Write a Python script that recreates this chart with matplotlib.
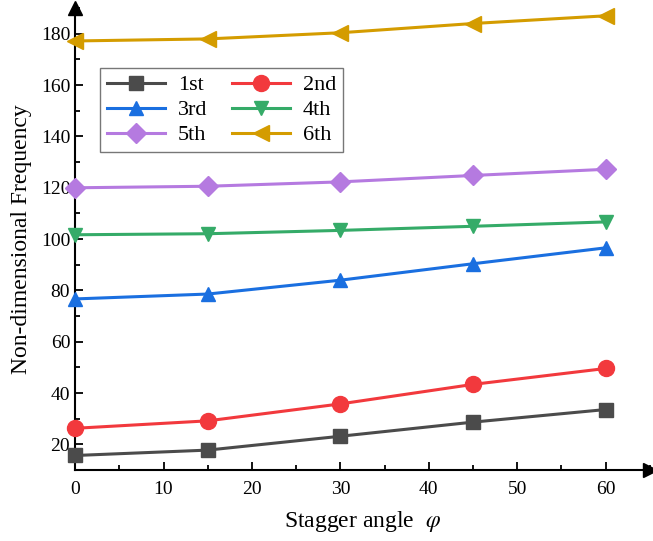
import numpy as np
import matplotlib.pyplot as plt
from matplotlib.ticker import MultipleLocator

plt.rcParams['font.family'] = ['Liberation Serif', 'DejaVu Serif']
plt.rcParams['mathtext.fontset'] = 'stix'

# stagger angle (deg)
angles = [0, 15, 30, 45, 60]
labels = ['1st', '2nd', '3rd', '4th', '5th', '6th']

# non-dimensional frequency for each mode
f1 = [15.7, 17.8, 23.2, 28.7, 33.6]
f2 = [26.3, 29.2, 35.8, 43.4, 49.6]
f3 = [76.7, 78.6, 84.0, 90.4, 96.6]
f4 = [101.7, 102.1, 103.4, 105.0, 106.7]
f5 = [120.0, 120.6, 122.3, 124.8, 127.2]
f6 = [177.2, 178.0, 180.4, 184.0, 187.0]

series = [f1, f2, f3, f4, f5, f6]
colors = ['#4b4b4b', '#f2393d', '#1a6fe0', '#35ab68', '#b57ae0', '#d49c00']
markers = ['s', 'o', '^', 'v', 'D', '<']
msizes = [9.5, 11.5, 10.5, 10.5, 10, 11]

fig = plt.figure(figsize=(6.53, 5.41), dpi=100)
ax = fig.add_axes([0.115, 0.131, 0.88, 0.854])

handles = []
for y, c, m, ms, lab in zip(series, colors, markers, msizes, labels):
    h, = ax.plot(angles, y, color=c, marker=m, markersize=ms, lw=2.2, label=lab,
                 clip_on=False, zorder=3)
    handles.append(h)

ax.set_xlim(0, 65)
ax.set_ylim(10, 190)
ax.spines['top'].set_visible(False)
ax.spines['right'].set_visible(False)
ax.spines['left'].set_linewidth(1.5)
ax.spines['bottom'].set_linewidth(1.5)

ax.set_xticks([0, 10, 20, 30, 40, 50, 60])
ax.xaxis.set_minor_locator(MultipleLocator(5))
ax.set_yticks([20, 40, 60, 80, 100, 120, 140, 160, 180])
ax.yaxis.set_minor_locator(MultipleLocator(10))
ax.tick_params(which='major', direction='in', length=6, width=1.3, labelsize=14)
ax.tick_params(which='minor', direction='in', length=3.5, width=1.3)
ax.tick_params(axis='x', pad=8)

# arrows at axis ends
ax.plot(1, 0, '>', color='k', markersize=10, transform=ax.transAxes, clip_on=False)
ax.plot(0, 1, '^', color='k', markersize=10, transform=ax.transAxes, clip_on=False)

ax.set_xlabel(r'Stagger angle  $\varphi$', fontsize=17, labelpad=8)
ax.set_ylabel('Non-dimensional Frequency', fontsize=17, labelpad=6)

# legend filled row by row: 1st 2nd / 3rd 4th / 5th 6th
order = [0, 2, 4, 1, 3, 5]
leg = ax.legend([handles[i] for i in order], [labels[i] for i in order],
                ncol=2, loc='upper left', bbox_to_anchor=(0.044, 0.87),
                fontsize=16, frameon=True, fancybox=False, handlelength=2.6,
                columnspacing=1.1, handletextpad=0.6, borderpad=0.3,
                labelspacing=0.2, borderaxespad=0)
leg.get_frame().set_edgecolor('#555555')
leg.get_frame().set_linewidth(1.0)

fig.savefig('out.png', dpi=100)
